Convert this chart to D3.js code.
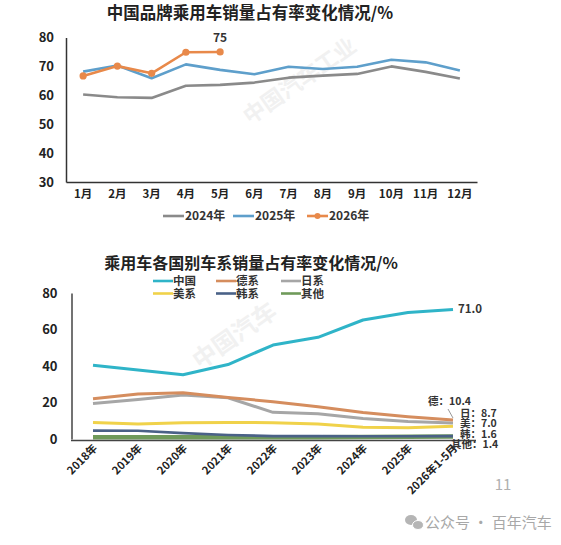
<!DOCTYPE html>
<html><head><meta charset="utf-8">
<script src="https://cdn.jsdelivr.net/npm/d3@7"></script>
<style>
html,body{margin:0;padding:0;background:#fff;}
text{font-family:"Noto Sans CJK SC","Noto Sans",sans-serif;}
</style></head>
<body>
<svg id="c" width="561" height="545"></svg>
<script>
// ---------- data: top chart ----------
const months = ["1月","2月","3月","4月","5月","6月","7月","8月","9月","10月","11月","12月"];
const share2024 = [60.3,59.3,59.1,63.3,63.6,64.4,66.1,66.8,67.4,70.0,68.1,65.8];
const share2025 = [68.2,70.3,65.9,70.7,68.8,67.3,69.9,69.1,69.9,72.3,71.4,68.6];
const share2026 = [66.7,70.1,67.6,74.9,75.0];
const topYTicks = [30,40,50,60,70,80];
const topSeriesNames = ["2024年","2025年","2026年"];

// ---------- data: bottom chart ----------
const years = ["2018年","2019年","2020年","2021年","2022年","2023年","2024年","2025年","2026年1-5月"];
const china  = [40.4,37.8,35.2,40.8,51.5,55.7,65.2,69.3,71.0];
const german = [22.1,24.6,25.3,22.8,20.4,17.7,14.5,12.2,10.4];
const japan  = [19.4,21.6,24.1,22.6,14.6,13.8,11.2,9.6,8.7];
const usa    = [9.1,8.2,8.9,9.1,8.9,8.2,6.5,6.2,7.0];
const korea  = [4.6,4.5,3.2,2.2,1.6,1.6,1.5,1.5,1.6];
const other  = [1.0,1.0,1.0,1.0,1.0,1.0,1.1,1.2,1.4];
const bottomYTicks = [0,20,40,60,80];
const bottomNames = ["中国","德系","日系","美系","韩系","其他"];
const endLabelNames = ["德","日","美","韩","其他"];

const svg = d3.select("#c");
const FONT = '"Noto Sans CJK SC","Noto Sans",sans-serif';

// ---------- faint watermarks ----------
const wm = svg.append("g").attr("fill","#f1f1f1").attr("font-weight","bold").attr("font-family",FONT);
wm.append("text").attr("transform","translate(250,125) rotate(-35)").attr("font-size",22).text("中国汽车工业");
wm.append("text").attr("transform","translate(200,370) rotate(-35)").attr("font-size",24).text("中国汽车");

// ================= TOP CHART =================
const xT = d3.scaleBand().domain(months).range([66,477]);
const yT = d3.scaleLinear().domain([30,80]).range([182,37.5]);
const cxT = m => xT(m) + xT.bandwidth()/2;

svg.append("text").attr("x",250).attr("y",19).attr("text-anchor","middle")
  .attr("font-size",16.5).attr("font-weight","bold").attr("fill","#222").text("中国品牌乘用车销量占有率变化情况/%");

const gyT = svg.append("g").attr("transform","translate(66,0)")
  .call(d3.axisLeft(yT).tickValues(topYTicks).tickSize(0).tickPadding(12).tickFormat(d3.format("d")));
gyT.select(".domain").attr("stroke","#333").attr("stroke-width",1.5);
gyT.selectAll("text").attr("font-size",13).attr("font-weight","bold").attr("fill","#222").attr("font-family",FONT);

const gxT = svg.append("g").attr("transform","translate(0,182)")
  .call(d3.axisBottom(xT).tickSize(0).tickPadding(8));
gxT.select(".domain").attr("stroke","#333").attr("stroke-width",1.5);
gxT.selectAll("text").attr("font-size",11.5).attr("font-weight","bold").attr("fill","#222").attr("font-family",FONT);

const lineT = d3.line().x((d,i)=>cxT(months[i])).y(d=>yT(d));
const topColors = ["#8a8a8a","#5e9fcb","#e8894a"];
[share2024,share2025,share2026].forEach((s,k)=>{
  svg.append("path").datum(s).attr("d",lineT).attr("fill","none")
    .attr("stroke",topColors[k]).attr("stroke-width",2.6).attr("stroke-linejoin","round");
});
svg.append("g").selectAll("circle").data(share2026).join("circle")
  .attr("cx",(d,i)=>cxT(months[i])).attr("cy",d=>yT(d)).attr("r",3.6).attr("fill",topColors[2]);
svg.append("text").attr("x",cxT(months[4])).attr("y",yT(share2026[4])-10)
  .attr("text-anchor","middle").attr("font-size",12).attr("font-weight","bold").attr("fill","#333")
  .text(d3.format("d")(share2026[4]));

// top legend
const legT = svg.append("g");
const legTX = [163,233,307];
topSeriesNames.forEach((n,k)=>{
  legT.append("line").attr("x1",legTX[k]).attr("x2",legTX[k]+21).attr("y1",216).attr("y2",216)
    .attr("stroke",topColors[k]).attr("stroke-width",2.6);
  if(k===2) legT.append("circle").attr("cx",legTX[k]+10.5).attr("cy",216).attr("r",3).attr("fill",topColors[k]);
  legT.append("text").attr("x",legTX[k]+22).attr("y",216).attr("dy","0.35em")
    .attr("font-size",12).attr("font-weight","bold").attr("fill","#333").text(n);
});

// ================= BOTTOM CHART =================
const xB = d3.scaleBand().domain(years).range([70.5,475.5]);
const yB = d3.scaleLinear().domain([0,80]).range([439,293]);
const cxB = c => xB(c) + xB.bandwidth()/2;

svg.append("text").attr("x",251).attr("y",269).attr("text-anchor","middle")
  .attr("font-size",16).attr("font-weight","bold").attr("fill","#222").text("乘用车各国别车系销量占有率变化情况/%");

const bottomSeries = [china,german,japan,usa,korea,other];
const bottomColors = ["#2fb4c8","#d58d5e","#a6a6a6","#f0d24a","#4a6187","#6f9a5a"];
const bottomWidths = [3,3,3,3,2.6,4.5];

// legend
const legBX = [153,216,281];
const legBY = [281,293.5];
bottomNames.forEach((n,k)=>{
  const x0 = legBX[k%3], y0 = legBY[Math.floor(k/3)];
  svg.append("line").attr("x1",x0).attr("x2",x0+20).attr("y1",y0).attr("y2",y0)
    .attr("stroke",bottomColors[k]).attr("stroke-width",2.6);
  svg.append("text").attr("x",x0+20).attr("y",y0).attr("dy","0.35em")
    .attr("font-size",11.5).attr("font-weight","bold").attr("fill","#333").text(n);
});

const gyB = svg.append("g").attr("transform","translate(71.5,0)")
  .call(d3.axisLeft(yB).tickValues(bottomYTicks).tickSize(0).tickPadding(14).tickFormat(d3.format("d")));
gyB.select(".domain").attr("stroke","#444").attr("stroke-width",1.5);
gyB.selectAll("text").attr("font-size",13).attr("font-weight","bold").attr("fill","#222").attr("font-family",FONT);

const lineB = d3.line().x((d,i)=>cxB(years[i])).y(d=>yB(d));
[5,4,3,2,1,0].forEach(k=>{
  svg.append("path").datum(bottomSeries[k]).attr("d",lineB).attr("fill","none")
    .attr("stroke",bottomColors[k]).attr("stroke-width",bottomWidths[k]).attr("stroke-linejoin","round");
});

const gxB = svg.append("g").attr("transform","translate(0,440)")
  .call(d3.axisBottom(xB).tickSize(0).tickPadding(0));
gxB.select(".domain").attr("stroke","#444").attr("stroke-width",1.5);
gxB.selectAll("text").attr("font-size",11).attr("font-weight","bold").attr("fill","#222").attr("font-family",FONT)
  .attr("text-anchor","end").attr("dy",0).attr("y",0)
  .attr("transform","translate(5,9) rotate(-45)");

// end labels
const last = years.length-1;
const xe = cxB(years[last]);
svg.append("text").attr("x",xe+5).attr("y",yB(china[last])).attr("dy","0.35em")
  .attr("font-size",11.5).attr("font-weight","bold").attr("fill","#333").text(d3.format(".1f")(china[last]));
const endVals = [german[last],japan[last],usa[last],korea[last],other[last]];
const endPos = [[-25,401],[7,413],[7,423.5],[7,434],[-2,444.5]];
endLabelNames.forEach((n,k)=>{
  svg.append("text").attr("x",xe+endPos[k][0]).attr("y",endPos[k][1]).attr("dy","0.35em")
    .attr("font-size",10.5).attr("font-weight","bold").attr("fill","#333")
    .text(n+"："+d3.format(".1f")(endVals[k]));
});
svg.append("line").attr("x1",xe-5).attr("y1",409).attr("x2",xe).attr("y2",yB(german[last])-2)
  .attr("stroke","#999").attr("stroke-width",1);

// footer
svg.append("text").attr("x",503).attr("y",490).attr("text-anchor","middle")
  .attr("font-size",15).attr("fill","#b0b0b0").text("11");
const wx = svg.append("g").attr("fill","#b5b5b5");
wx.append("ellipse").attr("cx",411).attr("cy",520).attr("rx",6).attr("ry",5);
wx.append("ellipse").attr("cx",418).attr("cy",525).attr("rx",5.5).attr("ry",4.5).attr("stroke","#fff").attr("stroke-width",1);
svg.append("text").attr("x",425).attr("y",523).attr("dy","0.35em")
  .attr("font-size",15).attr("fill","#a8a8a8").text("公众号 · 百年汽车");
</script>
</body></html>
